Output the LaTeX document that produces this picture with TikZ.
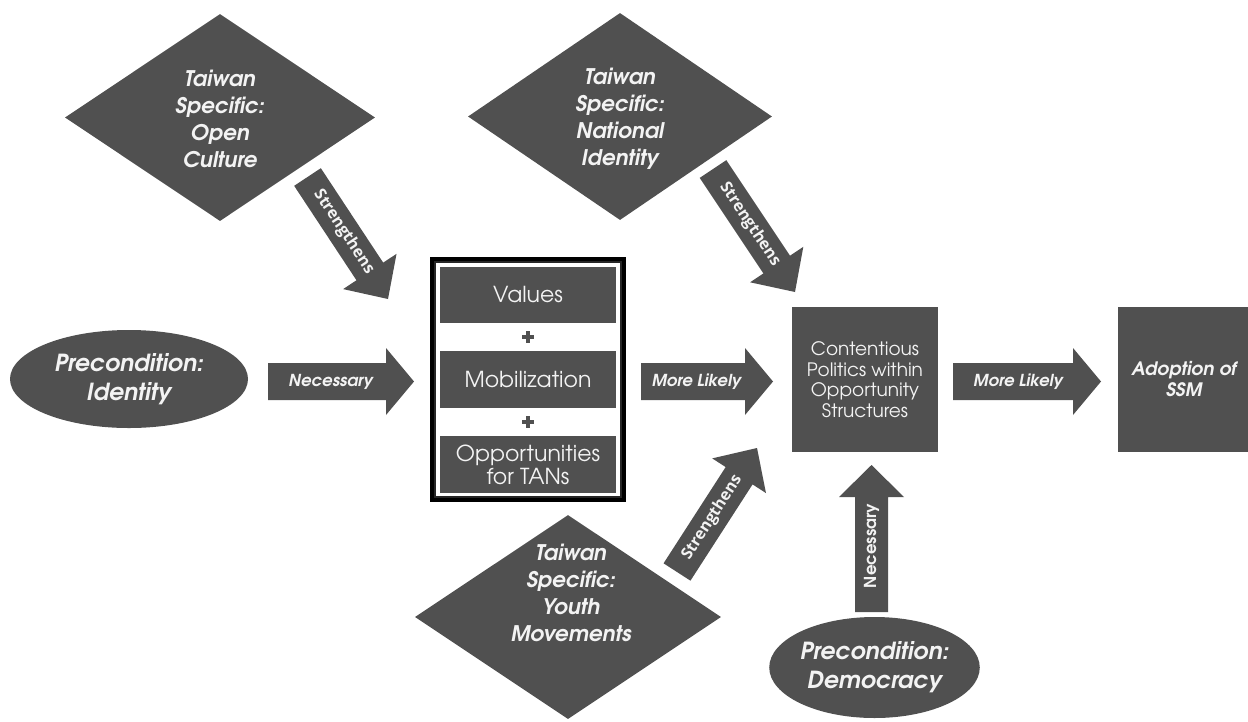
\documentclass[tikz,border=0pt]{standalone}
\usepackage{fontspec}
\setmainfont{texgyreadventor}[Extension=.otf, UprightFont=*-regular, BoldFont=*-bold, ItalicFont=*-italic, BoldItalicFont=*-bolditalic]
\newfontfamily\labelfont{Open Sans}
\usetikzlibrary{shapes.geometric, calc}
\definecolor{shapegray}{RGB}{80,80,80}
\definecolor{inkwhite}{RGB}{243,243,243}

% block arrow: #1 tail, #2 tip, #3 half shaft width, #4 half head width, #5 head length
\newcommand\blockarrow[5]{%
  \coordinate (ba-base) at ($(#2)!#5!(#1)$);
  \fill[shapegray] ($(#1)!#3!90:(#2)$) -- ($(ba-base)!#3!90:(#2)$) -- ($(ba-base)!#4!90:(#2)$)
    -- (#2) -- ($(ba-base)!#4!-90:(#2)$) -- ($(ba-base)!#3!-90:(#2)$) -- ($(#1)!#3!-90:(#2)$) -- cycle;
}

\begin{document}
\begin{tikzpicture}[x=1pt,y=-1pt,
  diam/.style={diamond, fill=shapegray, inner sep=0pt},
  dtext/.style={text=inkwhite, align=center, font=\bfseries\itshape\fontsize{21.5}{27}\selectfont},
  oval/.style={ellipse, fill=shapegray, inner sep=0pt, text=inkwhite, align=center,
    font=\bfseries\itshape\fontsize{23.5}{29}\selectfont},
  sq/.style={rectangle, fill=shapegray, inner sep=0pt, text=inkwhite, align=center},
  stack/.style={sq, minimum width=176pt, minimum height=57pt, font=\fontsize{22}{23}\selectfont},
  tag/.style={text=inkwhite, font=\bfseries\itshape\fontsize{16.5}{18}\selectfont},
  vtag/.style={text=inkwhite, font=\bfseries\fontsize{16.5}{18}\selectfont},
  strtag/.style={text=inkwhite, font=\labelfont\bfseries\fontsize{16}{18}\selectfont},
]
\useasboundingbox (0,0) rectangle (1248,721);

% diamonds
\node[diam, minimum width=310pt, minimum height=207pt] (oc) at (220,117.5) {};
\node[dtext] (oc-t) at (220,119) {Taiwan\\Specific:\\Open\\Culture};
\node[diam, minimum width=304pt, minimum height=207pt] (ni) at (620,116.5) {};
\node[dtext] (ni-t) at (620,119) {Taiwan\\Specific:\\National\\Identity};
\node[diam, minimum width=306pt, minimum height=204pt] (ym) at (568,617) {};
\node[dtext] (ym-t) at (571,593) {Taiwan\\Specific:\\Youth\\Movements};

% preconditions
\node[oval, minimum width=238pt, minimum height=98pt] (ident) at (129,379) {Precondition:\\Identity};
\node[oval, minimum width=191pt, minimum height=101pt] (demo) at (874.5,667.5) {Precondition:\\Democracy};

% grouped factors
\node[draw=black, line width=5pt, minimum width=191pt, minimum height=240pt, inner sep=0pt] (group) at (528,379.5) {};
\draw[line width=1.2pt, black!85] ($(group.north west)+(5,5)$) rectangle ($(group.south east)+(-5,-5)$);
\node[stack, minimum height=56pt] (values) at (528,295) {Values};
\node[stack] (mobil) at (528,379.5) {Mobilization};
\node[stack] (opps) at (528,464.5) {Opportunities\\for TANs};
\coordinate (plus1) at (528,337);
\coordinate (plus2) at (528,422);
\foreach \p in {plus1,plus2}{
  \fill[shapegray] ($(\p)+(-6,-2.2)$) rectangle ($(\p)+(6,2.2)$);
  \fill[shapegray] ($(\p)+(-2.2,-6)$) rectangle ($(\p)+(2.2,6)$);
}

% outcome boxes
\node[sq, minimum width=146pt, minimum height=145pt, font=\fontsize{18.5}{20.5}\selectfont] (cont) at (865,379.5)
  {Contentious\\Politics within\\Opportunity\\Structures};
\node[sq, minimum width=132pt, minimum height=145pt, font=\bfseries\itshape\fontsize{18.5}{21}\selectfont] (ssm) at (1184,379.5)
  {Adoption of\\SSM};

% horizontal connectors
\coordinate (n1a) at (268,381.5);  \coordinate (n1b) at (414,381.5);
\coordinate (m1a) at (641,381.5);  \coordinate (m1b) at (773,381.5);
\coordinate (m2a) at (953,381.5);  \coordinate (m2b) at (1101,381.5);
\blockarrow{n1a}{n1b}{18.5pt}{33.5pt}{28pt}
\blockarrow{m1a}{m1b}{18.5pt}{33.5pt}{28pt}
\blockarrow{m2a}{m2b}{18.5pt}{33.5pt}{28pt}
\path (n1a) -- (n1b) node[pos=0.43, tag] {Necessary};
\path (m1a) -- (m1b) node[pos=0.42, tag] {More Likely};
\path (m2a) -- (m2b) node[pos=0.44, tag] {More Likely};

% vertical connector from democracy
\coordinate (dva) at (871.5,612); \coordinate (dvb) at (871.5,465);
\blockarrow{dva}{dvb}{16.5pt}{32.5pt}{32pt}
\path (dva) -- (dvb) node[pos=0.45, sloped, vtag] {Necessary};

% diagonal connectors
\coordinate (s1a) at (307.5,177); \coordinate (s1b) at (388,299);
\coordinate (s2a) at (713,169);   \coordinate (s2b) at (795,292);
\coordinate (s3a) at (677,572);   \coordinate (s3b) at (757,448);
\blockarrow{s1a}{s1b}{16pt}{32pt}{33pt}
\blockarrow{s2a}{s2b}{16pt}{32pt}{33pt}
\blockarrow{s3a}{s3b}{16pt}{32pt}{33pt}
\path (s1a) -- (s1b) node[pos=0.45, sloped, strtag] {Strengthens};
\path (s2a) -- (s2b) node[pos=0.45, sloped, strtag] {Strengthens};
\path (s3a) -- (s3b) node[pos=0.44, sloped, strtag] {Strengthens};
\end{tikzpicture}
\end{document}
